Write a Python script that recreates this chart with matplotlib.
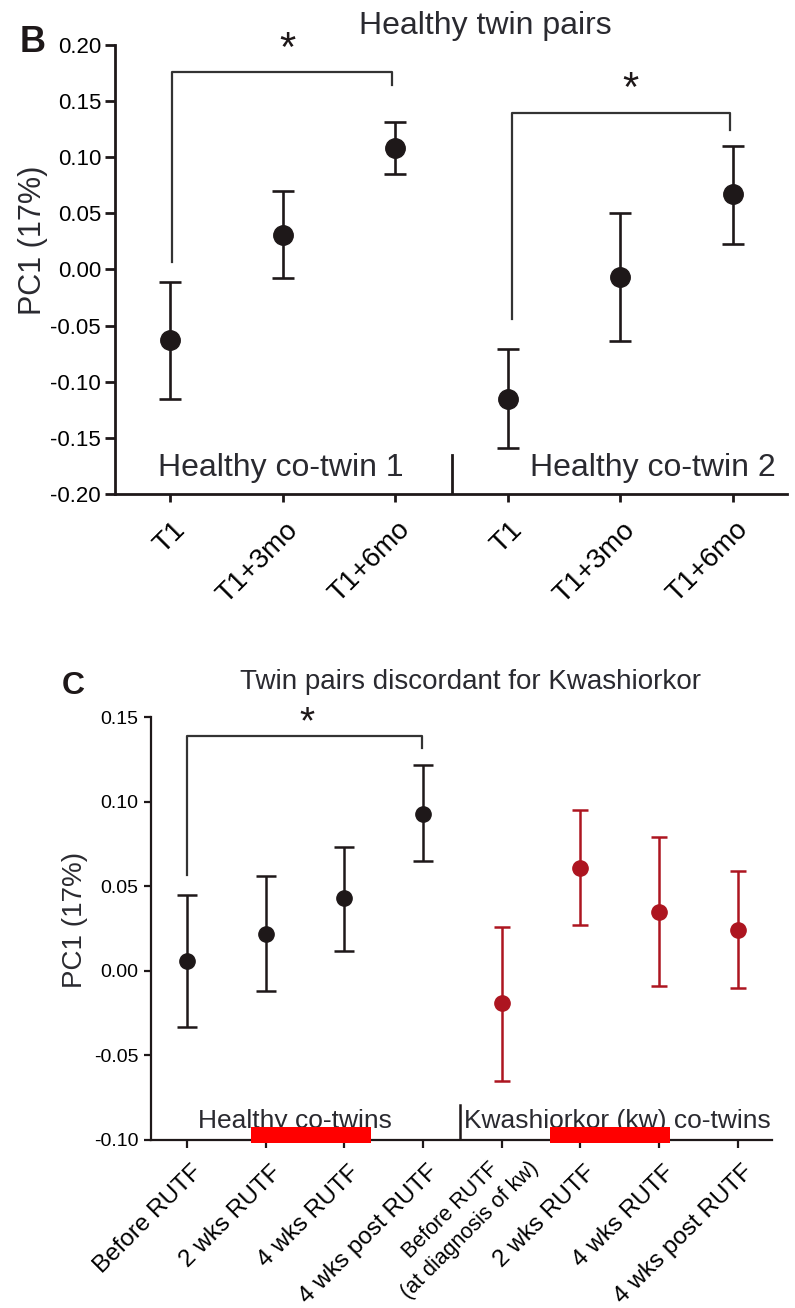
import numpy as np
import matplotlib
matplotlib.use('Agg')
import matplotlib.pyplot as plt
import matplotlib.transforms as mtransforms
from matplotlib.ticker import FormatStrFormatter
from matplotlib.patches import Rectangle

plt.rcParams['font.family'] = ['Liberation Sans', 'DejaVu Sans']
plt.rcParams['axes.unicode_minus'] = False

# Panel B: healthy twin pairs (mean, upper and lower error bar ends)
b_labels = ['T1', 'T1+3mo', 'T1+6mo', 'T1', 'T1+3mo', 'T1+6mo']
b_mean = [-0.063, 0.031, 0.108, -0.115, -0.007, 0.067]
b_upper = [-0.011, 0.070, 0.131, -0.071, 0.050, 0.110]
b_lower = [-0.115, -0.008, 0.085, -0.159, -0.064, 0.023]

# Panel C: twin pairs discordant for kwashiorkor
c_labels = ['Before RUTF', '2 wks RUTF', '4 wks RUTF', '4 wks post RUTF',
            'Before RUTF\n(at diagnosis of kw)', '2 wks RUTF', '4 wks RUTF', '4 wks post RUTF']
c_healthy_mean = [0.006, 0.022, 0.043, 0.093]
c_healthy_upper = [0.045, 0.056, 0.073, 0.122]
c_healthy_lower = [-0.033, -0.012, 0.012, 0.065]
c_kw_mean = [-0.019, 0.061, 0.035, 0.024]
c_kw_upper = [0.026, 0.095, 0.079, 0.059]
c_kw_lower = [-0.065, 0.027, -0.009, -0.010]

W, H, DPI = 795, 1308, 100
BLACK = '#1e1819'
RED = '#ad1520'
fig = plt.figure(figsize=(W / DPI, H / DPI), dpi=DPI)


def px_axes(x0, y0, x1, y1):
    return fig.add_axes([x0 / W, 1 - y1 / H, (x1 - x0) / W, (y1 - y0) / H])


def err(mean, lo, hi):
    m = np.array(mean)
    return [m - np.array(lo), np.array(hi) - m]


def shift_labels(ax, dx_px, dy_px=0):
    off = mtransforms.ScaledTranslation(dx_px / DPI, -dy_px / DPI, fig.dpi_scale_trans)
    for lab in ax.get_xticklabels():
        lab.set_transform(lab.get_transform() + off)


# ---------------- panel B ----------------
axb = px_axes(115, 45, 787, 494)
xb = np.arange(len(b_labels))
axb.errorbar(xb, b_mean, yerr=err(b_mean, b_lower, b_upper), fmt='o', color=BLACK,
             ms=14, capsize=8, elinewidth=1.9, capthick=1.9)
axb.set_xlim(-0.49, 5.48)
axb.set_ylim(-0.2, 0.2)
axb.set_yticks([-0.2, -0.15, -0.1, -0.05, 0, 0.05, 0.1, 0.15, 0.2])
axb.yaxis.set_major_formatter(FormatStrFormatter('%.2f'))
axb.set_xticks(xb)
axb.set_xticklabels(b_labels, rotation=45, ha='right', va='center', rotation_mode='anchor')
for s in ['top', 'right']:
    axb.spines[s].set_visible(False)
for s in ['left', 'bottom']:
    axb.spines[s].set_linewidth(2)
    axb.spines[s].set_color(BLACK)
axb.tick_params(axis='y', length=7, width=2, labelsize=16, pad=3, color=BLACK)
axb.tick_params(axis='x', length=6, width=2, labelsize=20, pad=17, color=BLACK)
shift_labels(axb, 11)

# significance brackets
axb.plot([0.02, 0.02, 1.97, 1.97], [0.007, 0.176, 0.176, 0.164], color='#333333', lw=1.6, clip_on=False)
axb.plot([3.04, 3.04, 4.97, 4.97], [-0.044, 0.139, 0.139, 0.124], color='#333333', lw=1.6, clip_on=False)
axb.text(1.04, 0.186, '*', ha='center', va='baseline', fontsize=30, color=BLACK)
axb.text(4.09, 0.150, '*', ha='center', va='baseline', fontsize=30, color=BLACK)

axb.plot([2.5, 2.5], [-0.165, -0.2], color=BLACK, lw=2)
axb.text(-0.107, -0.184, 'Healthy co-twin 1', ha='left', va='baseline', fontsize=23, color='#2a2a30')
axb.text(3.196, -0.184, 'Healthy co-twin 2', ha='left', va='baseline', fontsize=23, color='#2a2a30')

fig.text(485 / W, 1 - 26 / H, 'Healthy twin pairs', ha='center', va='center', fontsize=23, color='#2a2a30')
fig.text(20 / W, 1 - 43 / H, 'B', ha='left', va='center', fontsize=26, weight='bold', color=BLACK)
fig.text(33 / W, 1 - 240 / H, 'PC1 (17%)', rotation=90, ha='center', va='center', fontsize=22, color='#2a2a30')

# ---------------- panel C ----------------
axc = px_axes(150.7, 717.3, 771.7, 1140)
xc = np.arange(len(c_labels))
axc.errorbar(xc[:4], c_healthy_mean, yerr=err(c_healthy_mean, c_healthy_lower, c_healthy_upper),
             fmt='o', color=BLACK, ms=11, capsize=7, elinewidth=1.8, capthick=1.8)
axc.errorbar(xc[4:], c_kw_mean, yerr=err(c_kw_mean, c_kw_lower, c_kw_upper),
             fmt='o', color=RED, ms=11, capsize=6, elinewidth=1.8, capthick=1.8)
axc.set_xlim(-0.46, 7.43)
axc.set_ylim(-0.1, 0.15)
axc.set_yticks([-0.1, -0.05, 0, 0.05, 0.1, 0.15])
axc.yaxis.set_major_formatter(FormatStrFormatter('%.2f'))
axc.set_xticks(xc)
axc.set_xticklabels(c_labels, rotation=45, ha='right', va='center', rotation_mode='anchor',
                    multialignment='center')
for s in ['top', 'right']:
    axc.spines[s].set_visible(False)
for s in ['left', 'bottom']:
    axc.spines[s].set_linewidth(1.6)
    axc.spines[s].set_color(BLACK)
axc.tick_params(axis='y', length=5, width=1.6, labelsize=14, pad=4, color=BLACK)
axc.tick_params(axis='x', length=6, width=1.6, labelsize=17.5, pad=15, color=BLACK)
shift_labels(axc, 12)
lab4 = axc.get_xticklabels()[4]
lab4.set_fontsize(15.5)
lab4.set_linespacing(1.4)
extra = mtransforms.ScaledTranslation(12 / DPI, 14 / DPI, fig.dpi_scale_trans)
lab4.set_transform(lab4.get_transform() + extra)

axc.plot([0.0, 0.0, 2.99, 2.99], [0.0567, 0.139, 0.139, 0.132], color='#333333', lw=1.6, clip_on=False)
axc.text(1.53, 0.1407, '*', ha='center', va='baseline', fontsize=28, color=BLACK)

axc.plot([3.47, 3.47], [-0.0793, -0.1], color=BLACK, lw=1.8)
axc.text(0.139, -0.0929, 'Healthy co-twins', ha='left', va='baseline', fontsize=19, color='#2a2a30')
axc.text(3.515, -0.0929, 'Kwashiorkor (kw) co-twins', ha='left', va='baseline', fontsize=19, color='#2a2a30')

# red bars marking the RUTF period
for x0 in [0.81, 4.61]:
    axc.add_patch(Rectangle((x0, -0.1018), 1.53, 0.0094, color='#ff0000', clip_on=False, zorder=5, lw=0))

fig.text(471 / W, 1 - 682 / H, 'Twin pairs discordant for Kwashiorkor', ha='center', va='center',
         fontsize=20, color='#2a2a30')
fig.text(62 / W, 1 - 686 / H, 'C', ha='left', va='center', fontsize=23, weight='bold', color=BLACK)
fig.text(75 / W, 1 - 920 / H, 'PC1 (17%)', rotation=90, ha='center', va='center', fontsize=20, color='#2a2a30')

fig.savefig('out.png', dpi=DPI)
